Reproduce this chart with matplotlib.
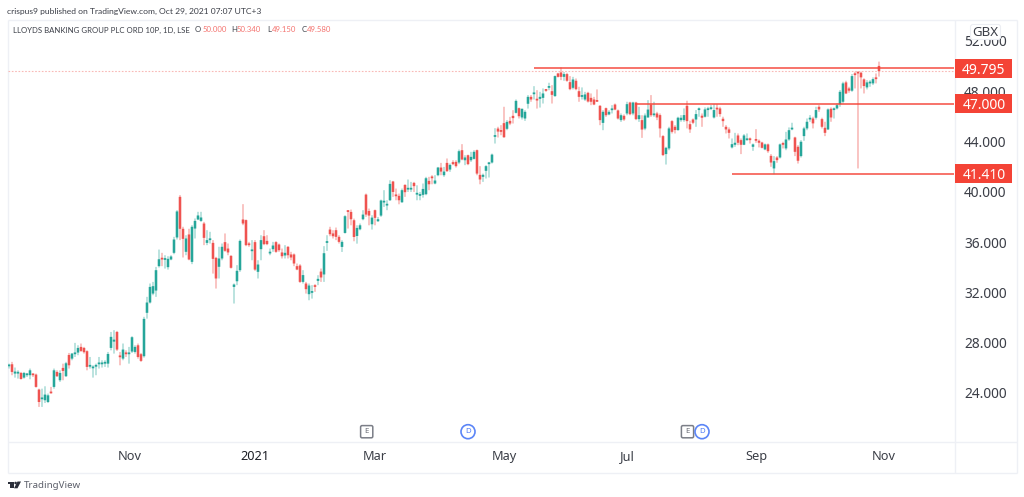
import numpy as np
import matplotlib
matplotlib.use("Agg")
import matplotlib.pyplot as plt
from matplotlib.patches import Rectangle, Circle, FancyBboxPatch, Polygon
from matplotlib.transforms import blended_transform_factory

plt.rcParams['font.family'] = ['Noto Sans', 'DejaVu Sans']

# daily candles, one row = 10 bars
opens = [
    26.12,26.28,25.54,25.54,25.59,25.22,25.41,25.41,25.49,25.46,
    24.27,23.50,23.42,23.28,24.11,24.48,25.67,25.01,25.99,25.33,
    27.02,26.73,27.08,27.21,27.66,27.58,27.32,26.09,25.96,26.09,
    26.28,26.28,26.33,26.33,27.58,28.08,28.85,26.94,26.73,27.18,
    27.08,27.29,27.26,27.79,27.08,26.92,30.37,31.19,31.90,32.14,
    34.08,34.74,34.58,34.00,34.61,35.14,36.36,39.59,37.05,35.22,
    36.60,34.42,37.07,37.79,37.68,37.47,35.93,36.15,35.93,34.74,
    34.03,34.69,35.99,35.48,34.90,32.43,32.88,33.76,37.79,37.74,
    35.88,35.27,35.99,33.63,35.43,36.46,36.09,35.09,35.43,35.99,
    35.80,35.17,34.93,35.62,35.01,35.01,34.08,34.13,32.83,32.70,
    31.85,31.96,32.54,32.91,33.65,33.42,35.93,36.99,36.68,36.94,
    36.41,35.61,36.72,38.45,38.39,37.73,36.48,37.01,37.81,39.77,
    38.47,37.41,38.53,37.65,38.10,39.14,38.90,39.32,40.81,39.72,
    39.67,39.16,40.54,40.17,40.17,40.70,39.77,39.67,39.75,39.80,
    40.86,41.18,40.65,41.31,41.92,41.31,42.29,41.76,42.35,42.37,
    42.32,43.30,42.50,42.90,42.50,42.61,43.30,41.34,41.18,41.66,
    42.19,42.32,44.36,45.02,44.81,45.45,45.00,45.63,46.03,46.27,
    46.64,45.90,45.82,46.99,47.54,47.75,47.28,47.38,47.46,48.07,
    48.26,47.99,47.60,49.40,49.48,49.13,49.35,48.71,48.26,48.82,
    47.99,47.54,47.33,47.86,47.46,47.33,47.28,46.83,45.47,46.64,
    46.14,46.48,46.93,46.46,45.69,46.03,46.22,47.09,46.22,47.09,
    45.77,45.69,45.02,45.90,46.93,46.08,46.22,46.09,44.42,42.99,
    43.44,45.61,45.16,44.90,45.69,45.69,46.83,45.37,45.74,45.74,
    46.49,46.04,45.96,46.49,46.57,45.90,46.67,46.62,45.80,45.16,
    44.95,43.52,43.73,44.47,44.10,43.73,44.10,44.15,43.57,44.10,
    44.05,43.91,43.36,43.76,42.85,41.85,42.72,42.72,43.83,43.44,
    44.15,44.95,44.31,43.57,42.83,44.42,45.03,45.74,45.82,45.88,
    46.75,45.77,45.08,44.95,46.59,46.49,46.62,46.96,47.15,48.69,
    48.21,48.03,49.40,49.46,49.46,48.93,48.29,48.61,48.61,49.09,50.00,
]
closes = [
    26.20,25.67,25.70,25.64,25.11,25.59,25.46,25.80,25.41,24.48,
    23.28,23.55,23.87,23.81,23.97,25.80,25.33,25.59,25.75,26.36,
    26.20,27.13,27.13,27.58,27.34,27.24,26.07,26.17,26.02,26.23,
    26.36,26.39,26.39,27.10,28.46,28.24,27.45,26.84,27.45,27.08,
    27.13,28.43,27.66,26.86,26.55,29.89,31.19,32.43,32.49,33.76,
    34.63,34.61,34.63,34.66,34.85,36.20,38.43,37.05,36.25,36.28,
    34.61,37.21,37.68,38.11,37.95,36.33,36.15,36.20,34.66,33.10,
    34.69,35.62,35.30,35.17,33.95,32.62,33.71,36.09,37.47,35.75,
    35.75,35.40,33.81,34.21,36.15,35.83,35.83,35.17,35.72,35.22,
    35.35,34.87,35.14,34.95,34.77,34.29,33.81,32.83,33.37,32.25,
    32.54,32.09,32.43,33.07,33.18,35.11,35.99,36.62,36.46,36.41,
    36.01,36.01,38.05,38.39,37.81,36.40,37.12,37.33,38.18,38.18,
    38.10,37.94,37.92,37.81,39.30,39.22,38.98,40.62,39.98,39.64,
    39.32,40.12,39.96,40.30,40.25,40.44,39.85,39.80,40.22,41.07,
    40.59,41.07,40.89,41.92,41.60,41.60,41.63,42.13,42.19,42.03,
    43.22,42.56,42.72,42.19,42.77,43.17,41.44,40.97,41.34,42.03,
    42.27,42.95,44.44,44.78,44.76,44.33,45.55,45.42,45.85,47.22,
    46.00,46.59,46.35,47.54,47.33,47.89,47.25,47.54,47.81,48.02,
    48.39,47.70,49.19,49.13,49.13,49.35,48.82,48.15,48.92,48.15,
    47.54,47.68,47.73,47.17,47.15,46.93,47.15,45.69,46.35,46.08,
    46.35,46.56,46.53,45.82,46.08,45.74,46.96,46.16,47.09,45.77,
    46.08,44.94,46.06,46.53,46.08,46.22,45.90,45.03,42.91,43.49,
    45.03,44.76,44.90,45.88,45.88,46.09,45.61,44.95,45.48,46.17,
    46.62,45.88,46.54,46.62,46.67,46.49,46.54,46.17,45.61,44.95,
    44.68,43.78,43.89,43.89,43.73,44.47,44.23,44.10,43.76,44.05,
    43.89,43.49,43.76,43.22,42.32,42.43,42.51,43.76,43.73,44.15,
    44.89,45.03,43.17,42.46,43.97,45.03,45.56,45.88,45.43,46.49,
    46.54,45.16,44.68,46.54,45.90,46.62,46.88,47.94,48.61,47.81,
    48.03,49.19,49.27,49.40,49.09,48.40,48.69,48.74,48.95,48.95,49.58,
]
highs = [
    26.33,26.47,26.02,25.80,25.67,25.67,25.59,25.94,25.54,25.54,
    24.34,24.34,24.53,23.95,24.48,25.94,25.80,25.80,26.33,26.47,
    27.18,27.18,27.98,27.79,27.93,27.66,27.39,26.86,26.20,26.33,
    26.86,26.60,26.60,27.26,28.85,28.99,28.93,27.26,27.93,27.39,
    27.66,28.51,27.79,27.93,27.18,30.05,31.64,32.70,32.83,34.02,
    35.40,35.14,34.95,34.87,34.95,36.41,38.53,39.73,37.21,36.54,
    37.05,37.34,37.87,38.40,38.40,37.60,36.94,36.81,36.15,34.82,
    35.62,35.88,36.68,35.88,34.95,32.70,34.16,36.20,39.01,37.79,
    36.01,36.15,36.15,34.55,36.54,36.94,36.54,35.48,36.01,36.07,
    35.88,35.48,35.75,35.67,35.22,35.09,34.29,34.24,33.76,32.83,
    32.70,32.57,32.65,33.36,33.89,35.67,36.54,37.21,36.94,37.15,
    36.54,36.14,38.13,38.53,38.58,37.86,37.33,37.47,38.53,39.85,
    38.66,38.13,38.58,37.99,39.37,40.12,39.32,40.91,40.86,40.25,
    39.85,40.25,40.59,40.97,40.78,40.78,40.51,39.98,40.65,41.18,
    41.18,41.31,41.31,41.97,42.29,41.97,42.64,42.24,42.50,42.50,
    43.35,43.78,42.90,42.95,43.17,43.30,43.35,42.03,41.44,42.11,
    42.37,43.03,45.05,45.16,45.29,46.75,45.69,45.95,46.48,47.33,
    46.69,46.61,46.48,47.68,47.68,48.39,48.07,47.94,48.21,48.15,
    48.66,48.47,49.24,49.45,49.88,49.51,49.45,49.19,49.13,49.00,
    48.34,48.29,47.94,47.94,47.81,47.54,48.13,46.88,46.48,46.69,
    46.48,46.88,47.01,46.53,46.22,46.14,47.15,47.15,47.15,47.15,
    46.75,46.08,46.22,47.28,47.68,47.15,46.35,46.22,44.50,43.57,
    45.16,45.69,45.29,45.96,46.09,46.62,47.23,45.64,45.82,46.49,
    46.70,46.22,46.70,46.75,46.88,46.96,46.96,46.75,45.96,45.29,
    45.11,44.23,44.68,44.63,44.23,44.58,44.63,44.31,43.83,44.97,
    44.15,43.97,43.83,43.83,42.99,42.83,42.83,43.83,43.97,44.76,
    45.11,45.48,44.37,43.70,44.10,45.16,45.82,46.09,45.96,46.75,
    46.88,45.88,45.56,46.62,46.70,46.70,47.02,48.08,48.74,48.82,
    48.34,49.35,49.54,49.54,49.54,49.01,48.87,48.87,49.09,49.40,50.34,
]
lows = [
    25.94,25.41,25.22,25.14,25.06,25.14,25.27,25.09,25.27,24.42,
    22.89,22.89,23.20,23.20,23.95,24.34,25.27,24.88,25.01,25.27,
    25.94,26.60,26.86,27.00,27.26,27.13,25.80,25.94,25.22,25.41,
    25.94,26.02,26.07,26.02,27.39,27.13,27.34,26.20,26.60,26.86,
    26.33,27.18,27.13,26.73,26.47,26.81,29.91,31.11,31.77,31.64,
    33.97,34.08,33.89,33.81,34.55,35.03,36.20,36.15,34.77,34.95,
    34.55,34.24,36.28,37.74,37.60,35.75,35.75,35.88,33.49,32.30,
    33.10,34.55,35.22,34.95,33.89,31.11,32.57,33.63,37.34,35.67,
    35.62,34.55,33.71,33.10,34.55,35.75,35.75,34.95,35.22,35.14,
    35.22,34.69,34.69,34.69,34.55,34.08,33.76,32.75,32.70,31.90,
    31.37,31.50,32.04,32.57,32.83,32.83,35.30,36.46,36.28,36.15,
    35.88,35.21,36.67,37.07,37.33,36.06,35.87,36.93,37.73,38.00,
    37.33,36.99,37.33,37.60,38.00,38.79,38.53,39.27,39.59,39.32,
    39.00,39.11,39.59,39.98,39.98,39.98,39.32,39.32,39.53,39.72,
    40.12,40.59,40.59,41.23,41.31,41.18,41.58,41.58,42.11,41.92,
    42.19,42.50,42.11,42.11,42.37,42.56,41.31,40.59,40.78,41.05,
    41.13,42.24,43.83,44.31,44.49,44.28,44.89,45.29,45.42,46.22,
    45.82,45.74,45.63,46.61,47.15,47.33,46.61,46.69,47.01,47.94,
    48.07,47.01,47.54,49.08,48.87,48.82,48.74,48.07,48.13,48.07,
    47.15,47.33,47.22,47.09,46.88,46.88,47.15,45.29,44.89,45.95,
    46.08,46.22,46.48,45.74,45.55,45.63,46.08,46.08,46.08,45.69,
    45.55,44.28,44.89,45.90,45.95,45.95,45.69,44.31,42.83,42.16,
    43.30,44.63,44.63,44.84,45.56,45.56,45.03,44.68,45.37,45.16,
    45.96,45.16,45.90,45.96,46.49,45.82,45.96,45.96,45.16,44.63,
    44.23,43.44,43.57,43.70,42.99,43.70,44.05,43.83,43.25,43.89,
    43.52,43.44,43.30,43.09,41.98,41.39,42.30,42.64,43.44,43.30,
    44.05,44.89,42.83,42.24,42.72,44.05,44.89,45.56,45.03,45.74,
    46.35,45.03,44.42,44.90,45.56,45.82,46.54,46.75,47.02,47.76,
    47.87,47.94,48.21,41.85,48.21,47.81,48.13,48.34,48.48,48.61,49.15,
]

price_ticks = [24, 28, 32, 36, 40, 44, 48, 52]
month_bars = [40.3, 82, 122, 165, 206, 249, 291.7]
month_labels = ["Nov", "2021", "Mar", "May", "Jul", "Sep", "Nov"]
level_prices = [49.795, 47.0, 41.41]
level_start_bars = [175, 208.7, 241]
last_close = closes[-1]

UP = "#26a69a"
DOWN = "#ef5350"
UP_WICK = "#a8dbd6"
DOWN_WICK = "#f8b4b2"
LEVEL = "#f44336"
BORDER = "#eef0f5"
TEXT = "#3b3e47"

fig = plt.figure(figsize=(10.24, 4.97), dpi=100, facecolor="white")

# pixel axes for the frame and furniture
bg = fig.add_axes([0, 0, 1, 1], zorder=0)
bg.set_xlim(0, 1024)
bg.set_ylim(497, 0)
bg.axis("off")
for xs, ys in [([7.5, 1016.5], [19.5, 19.5]), ([7.5, 1016.5], [441.5, 441.5]),
               ([7.5, 1016.5], [472.5, 472.5]), ([7.5, 7.5], [19.5, 472.5]),
               ([954.5, 954.5], [19.5, 472.5]), ([1016.5, 1016.5], [19.5, 472.5])]:
    bg.plot(xs, ys, color=BORDER, lw=1.0, solid_capstyle="butt")

# price pane
ax = fig.add_axes([7.5 / 1024, (497 - 441.5) / 497, 947 / 1024, 422 / 497], zorder=1)
ax.patch.set_alpha(0)
ax.set_xlim(-0.5, 315.17)
ax.set_ylim(20.14, 53.69)
for s in ax.spines.values():
    s.set_visible(False)

bars = np.arange(len(opens))
o = np.array(opens)
c = np.array(closes)
h = np.array(highs)
l = np.array(lows)
is_up = c >= o
wick_cols = [UP_WICK if u else DOWN_WICK for u in is_up]
body_cols = [UP if u else DOWN for u in is_up]

wicks = ax.vlines(bars, l, h, colors=wick_cols, lw=1.1, zorder=2)
wicks.set_snap(False)
bodies = ax.bar(bars, np.maximum(np.abs(c - o), 0.14), bottom=np.minimum(o, c), width=0.85,
                color=body_cols, linewidth=0, zorder=3)
for b in bodies:
    b.set_snap(False)

# last price line
ax.axhline(last_close, color="#f9b9b6", lw=0.8, ls=(0, (1.5, 1.5)), zorder=1)

# horizontal levels and their price tags
tag_tf = blended_transform_factory(ax.transAxes, ax.transData)
tag_h = 19 / 12.57
for price, start in zip(level_prices, level_start_bars):
    ax.plot([start, 315.17], [price, price], color=LEVEL, lw=1.3, alpha=0.8,
            solid_capstyle="butt", zorder=4)
    ax.add_patch(Rectangle((1.0005, price - tag_h / 2), 0.0607, tag_h, transform=tag_tf,
                           facecolor=LEVEL, edgecolor="none", clip_on=False, zorder=5))
    ax.text(1.031, price, f"{price:.3f}", transform=tag_tf, color="white", fontsize=10,
            ha="center", va="center_baseline", clip_on=False, zorder=6)

ax.yaxis.tick_right()
ax.set_yticks(price_ticks)
ax.set_yticklabels([f"{p:.3f}" for p in price_ticks], fontsize=9.9, color=TEXT)
ax.set_xticks(month_bars)
ax.set_xticklabels(month_labels, fontsize=9.2, color=TEXT)
ax.get_xticklabels()[1].set_fontweight("bold")
ax.get_xticklabels()[1].set_color("#1d1f26")
ax.tick_params(axis="both", length=0)
ax.tick_params(axis="y", pad=7)
ax.tick_params(axis="x", pad=6)

# header
fg = fig.add_axes([0, 0, 1, 1], zorder=2)
fg.set_xlim(0, 1024)
fg.set_ylim(497, 0)
fg.axis("off")
fg.patch.set_alpha(0)
fg.text(7, 11, "crispus9 published on TradingView.com, Oct 29, 2021 07:07 UTC+3",
        fontsize=6.1, color=TEXT, va="center", family="Lato")
fg.text(13, 30, "LLOYDS BANKING GROUP PLC ORD 10P, 1D, LSE", fontsize=5.55, color=TEXT, va="center", family="Lato")
for letter, lx, value, vx in [("O", 195, opens[-1], 203), ("H", 231.5, highs[-1], 237),
                              ("L", 267, lows[-1], 272), ("C", 302, closes[-1], 307)]:
    fg.text(lx, 30, letter, fontsize=5.55, color=TEXT, va="center", family="Lato")
    fg.text(vx, 30, f"{value:.3f}", fontsize=5.55, color="#f4736f", va="center", family="Lato")

# currency badge
fg.add_patch(FancyBboxPatch((972, 26), 27, 12, boxstyle="round,pad=1.5,rounding_size=2.5",
                            facecolor="white", edgecolor="#eceef3", lw=0.8))
fg.text(985.5, 32, "GBX", fontsize=9.6, color=TEXT, ha="center", va="center")

# earnings and dividend markers
for ex in [366.7, 687.5]:
    fg.add_patch(FancyBboxPatch((ex - 5.5, 426.2), 11, 11, boxstyle="round,pad=0.6,rounding_size=1.5",
                                facecolor="white", edgecolor="#7b7e87", lw=1.1))
    fg.text(ex, 431.8, "E", fontsize=5.6, color="#6a6d76", ha="center", va="center", fontweight="bold")
for dx in [468, 702]:
    fg.add_patch(Circle((dx, 431.7), 7, facecolor="white", edgecolor="#5b85f7", lw=1.2))
    fg.text(dx, 431.8, "D", fontsize=5.6, color="#4a78f5", ha="center", va="center", fontweight="bold")

# footer logo
logo = "#2a2e39"
fg.add_patch(Rectangle((7.5, 481.5), 6, 2.4, facecolor=logo, edgecolor="none"))
fg.add_patch(Rectangle((10.2, 481.5), 3.3, 6.8, facecolor=logo, edgecolor="none"))
fg.add_patch(Circle((15.6, 483), 1.3, facecolor=logo, edgecolor="none"))
fg.add_patch(Polygon([(17.5, 481.5), (21, 481.5), (17.5, 488.3), (14, 488.3)], facecolor=logo, edgecolor="none"))
fg.text(24, 485, "TradingView", fontsize=7, color="#5d606b", va="center")

fig.savefig("out.png", dpi=100, facecolor="white")
